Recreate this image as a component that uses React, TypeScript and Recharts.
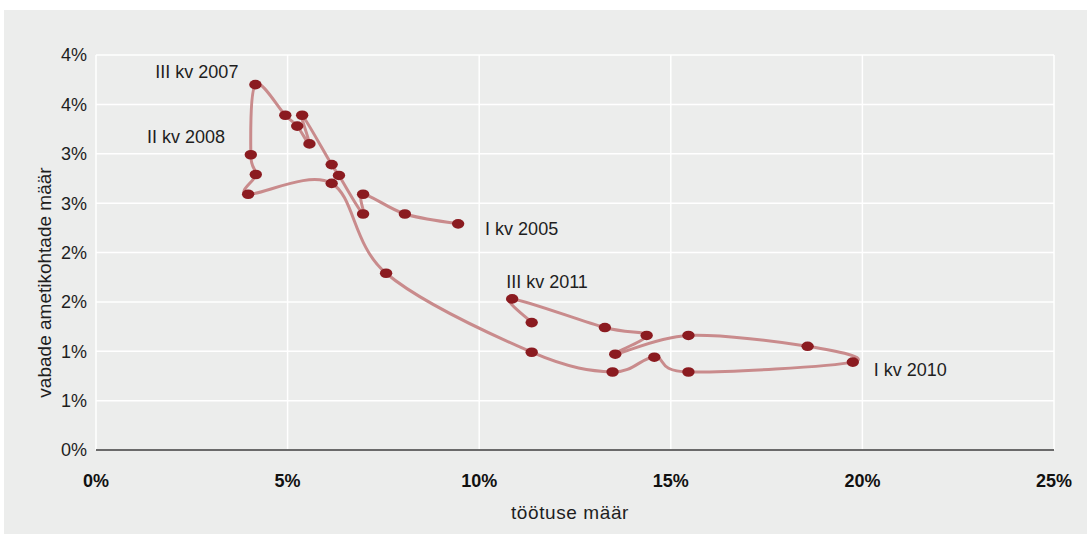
import { CartesianGrid, Label, Line, LineChart, XAxis, YAxis } from "recharts";

// Estonia, quarterly 2005 I – 2011 IV (Beveridge curve)
const quarters = [
  "I kv 2005", "II kv 2005", "III kv 2005", "IV kv 2005",
  "I kv 2006", "II kv 2006", "III kv 2006", "IV kv 2006",
  "I kv 2007", "II kv 2007", "III kv 2007", "IV kv 2007",
  "I kv 2008", "II kv 2008", "III kv 2008", "IV kv 2008",
  "I kv 2009", "II kv 2009", "III kv 2009", "IV kv 2009",
  "I kv 2010", "II kv 2010", "III kv 2010", "IV kv 2010",
  "I kv 2011", "II kv 2011", "III kv 2011", "IV kv 2011",
];

// töötuse määr, %
const unemployment = [
  9.45, 8.06, 6.97, 6.97,
  6.34, 6.15, 5.38, 5.57,
  5.25, 4.94, 4.16, 4.04,
  4.17, 3.97, 6.15, 7.57,
  11.37, 13.48, 14.57, 15.46,
  19.75, 18.57, 15.46, 13.55,
  14.37, 13.28, 10.86, 11.37,
];

// vabade ametikohtade määr, %
const vacancies = [
  2.29, 2.39, 2.59, 2.39,
  2.78, 2.89, 3.39, 3.1,
  3.28, 3.39, 3.7, 2.99,
  2.79, 2.59, 2.7, 1.79,
  0.99, 0.79, 0.94, 0.79,
  0.89, 1.05, 1.16, 0.97,
  1.16, 1.24, 1.53, 1.29,
];

const labelledQuarters = ["I kv 2005", "III kv 2007", "II kv 2008", "I kv 2010", "III kv 2011"];

const xTicks = [0, 5, 10, 15, 20, 25];
const xGridTicks = [5, 10, 15, 20];
const yTicks = [0, 0.5, 1, 1.5, 2, 2.5, 3, 3.5, 4];

const chartData = quarters.map((q, i) => ({ q, u: unemployment[i], v: vacancies[i] }));

// where each annotation sits relative to its point
const labelPlacement: Record<string, { dx: number; dy: number; anchor: "start" | "end" }> = {
  "I kv 2005": { dx: 27, dy: 5, anchor: "start" },
  "III kv 2007": { dx: -17, dy: -13, anchor: "end" },
  "II kv 2008": { dx: -23, dy: -58, anchor: "end" },
  "I kv 2010": { dx: 21, dy: 8, anchor: "start" },
  "III kv 2011": { dx: -6, dy: -17, anchor: "start" },
};

const FONT = "'Liberation Sans', Arial, Helvetica, sans-serif";

// catmull-rom style smoothing that follows the data order (x is not monotone)
const smoothPath = (context: any) => {
  let pts: [number, number][] = [];
  return {
    areaStart() {},
    areaEnd() {},
    lineStart() {
      pts = [];
    },
    point(x: number, y: number) {
      pts.push([+x, +y]);
    },
    lineEnd() {
      const n = pts.length;
      if (!n) return;
      const k = 1 / 6;
      context.moveTo(pts[0][0], pts[0][1]);
      for (let i = 0; i < n - 1; i++) {
        const p0 = pts[Math.max(i - 1, 0)];
        const p1 = pts[i];
        const p2 = pts[i + 1];
        const p3 = pts[Math.min(i + 2, n - 1)];
        context.bezierCurveTo(
          p1[0] + (p2[0] - p0[0]) * k,
          p1[1] + (p2[1] - p0[1]) * k,
          p2[0] - (p3[0] - p1[0]) * k,
          p2[1] - (p3[1] - p1[1]) * k,
          p2[0],
          p2[1]
        );
      }
    },
  };
};

const renderDot = (props: any) => {
  const { cx, cy, index, payload } = props;
  const place = labelledQuarters.includes(payload.q) ? labelPlacement[payload.q] : null;
  return (
    <g key={`dot-${index}`}>
      <ellipse cx={cx} cy={cy} rx={6.2} ry={4.8} fill="#8b1b20" />
      {place && (
        <text
          x={cx + place.dx}
          y={cy + place.dy}
          dy="0.35em"
          textAnchor={place.anchor}
          fontSize={18}
          fontFamily={FONT}
          fill="#1e1e1e"
        >
          {payload.q}
        </text>
      )}
    </g>
  );
};

export default function App() {
  return (
    <div style={{ position: "absolute", left: 0, top: 0, width: 1087, height: 534, background: "#fff" }}>
      <div
        style={{ position: "absolute", left: 4, top: 10, width: 1083, height: 524, background: "#ecedec" }}
      />
      <div style={{ position: "absolute", left: 0, top: 0 }}>
        <LineChart
          width={1087}
          height={534}
          data={chartData}
          margin={{ top: 55, right: 33, left: 0, bottom: 0 }}
        >
          <CartesianGrid xAxisId="grid" stroke="#ffffff" strokeWidth={1.5} />
          <XAxis xAxisId="grid" dataKey="u" type="number" domain={[0, 25]} ticks={xGridTicks} hide />
          <XAxis
            dataKey="u"
            type="number"
            domain={[0, 25]}
            ticks={xTicks}
            interval={0}
            height={84}
            tickLine={false}
            tickMargin={18}
            axisLine={{ stroke: "#3a3a3a", strokeWidth: 1.5 }}
            tick={{ fontSize: 18, fontWeight: "bold", fill: "#111", fontFamily: FONT }}
            tickFormatter={(v: number) => `${v}%`}
          >
            <Label
              content={({ viewBox }: any) => (
                <text
                  x={viewBox.x + viewBox.width / 2 - 5}
                  y={viewBox.y + 62}
                  dy="0.35em"
                  textAnchor="middle"
                  fontSize={19}
                  letterSpacing={0.6}
                  fontFamily={FONT}
                  fill="#1e1e1e"
                >
                  töötuse määr
                </text>
              )}
            />
          </XAxis>
          <YAxis
            dataKey="v"
            type="number"
            domain={[0, 4]}
            ticks={yTicks}
            interval={0}
            width={96}
            axisLine={false}
            tickLine={false}
            tickMargin={3}
            tick={{ fontSize: 18, fill: "#1e1e1e", fontFamily: FONT }}
            tickFormatter={(v: number) => `${Math.round(v)}%`}
          >
            <Label
              content={({ viewBox }: any) => {
                const x = viewBox.x + 44;
                const y = viewBox.y + viewBox.height / 2 + 30;
                return (
                  <text
                    x={x}
                    y={y}
                    dy="0.35em"
                    textAnchor="middle"
                    transform={`rotate(-90, ${x}, ${y})`}
                    fontSize={19}
                    fontFamily={FONT}
                    fill="#1e1e1e"
                  >
                    vabade ametikohtade määr
                  </text>
                );
              }}
            />
          </YAxis>
          <Line
            dataKey="v"
            type={smoothPath as any}
            stroke="#c98b8c"
            strokeWidth={3}
            dot={renderDot}
            activeDot={false}
            isAnimationActive={false}
          />
        </LineChart>
      </div>
    </div>
  );
}
